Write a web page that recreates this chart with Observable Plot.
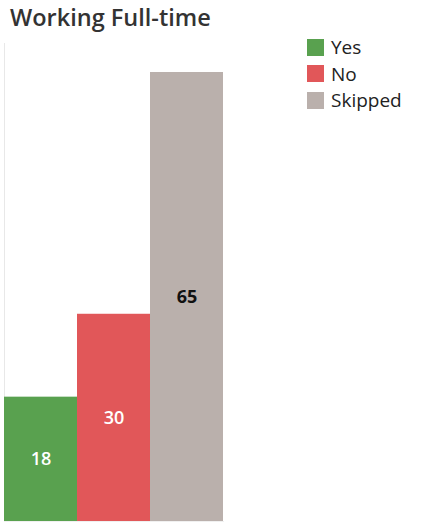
<!DOCTYPE html>
<html>
<head>
<meta charset="utf-8">
<script src="https://cdn.jsdelivr.net/npm/d3@7"></script>
<script src="https://cdn.jsdelivr.net/npm/@observablehq/plot@0.6"></script>
<style>
  html, body { margin: 0; padding: 0; background: #fff; }
  #wrap { position: relative; width: 423px; height: 526px; overflow: hidden; font-family: "Open Sans", sans-serif; }
  #title { position: absolute; left: 10px; top: 0px; font-size: 23.5px; font-weight: 600; color: #333; line-height: 34px; white-space: nowrap; }
  #legend { position: absolute; left: 307px; top: 34px; }
  .item { display: flex; align-items: center; height: 26.5px; font-size: 19px; color: #222; }
  .sw { width: 17px; height: 17px; margin-right: 7px; }
  #chart { position: absolute; left: 0; top: 0; }
</style>
</head>
<body>
<div id="wrap">
  <div id="chart"></div>
  <div id="title">Working Full-time</div>
  <div id="legend"></div>
</div>
<script>
const categories = ["Yes", "No", "Skipped"];
const counts = [18, 30, 65];
const colors = ["#59a14f", "#e15759", "#bab0ac"];
const labelColors = ["#ffffff", "#ffffff", "#111111"];

const data = categories.map((c, i) => ({category: c, count: counts[i], labelColor: labelColors[i]}));

const chart = Plot.plot({
  width: 423,
  height: 526,
  marginLeft: 4,
  marginRight: 200,
  marginTop: 43,
  marginBottom: 5,
  x: {domain: categories, padding: 0, axis: null},
  y: {domain: [0, d3.max(counts)], range: [521, 72], axis: null},
  color: {domain: categories, range: colors},
  style: {fontFamily: "Open Sans, sans-serif"},
  marks: [
    Plot.frame({anchor: "left", stroke: "#e8e8e8"}),
    Plot.frame({anchor: "bottom", stroke: "#f0f0f0"}),
    Plot.barY(data, {x: "category", y: "count", fill: "category"}),
    Plot.text(data.filter(d => d.labelColor === "#ffffff"), {
      x: "category",
      y: d => d.count / 2,
      text: d => String(d.count),
      fill: "labelColor",
      fontSize: 18,
      fontWeight: 600
    }),
    Plot.text(data.filter(d => d.labelColor !== "#ffffff"), {
      x: "category",
      y: d => d.count / 2,
      text: d => String(d.count),
      fill: "labelColor",
      fontSize: 18,
      fontWeight: 700
    })
  ]
});
document.getElementById("chart").appendChild(chart);

const legend = document.getElementById("legend");
categories.forEach((c, i) => {
  const item = document.createElement("div");
  item.className = "item";
  const sw = document.createElement("div");
  sw.className = "sw";
  sw.style.background = colors[i];
  const t = document.createElement("span");
  t.textContent = c;
  item.appendChild(sw);
  item.appendChild(t);
  legend.appendChild(item);
});
</script>
</body>
</html>
